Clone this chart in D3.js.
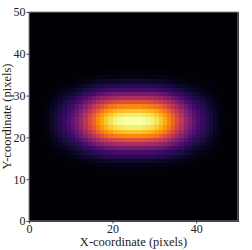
<!DOCTYPE html>
<html>
<head>
<meta charset="utf-8">
<script src="https://cdn.jsdelivr.net/npm/d3@7"></script>
<style>
  body { margin: 0; background: white; }
  text { font-family: "Liberation Serif", "DejaVu Serif", serif; fill: #222; }
</style>
</head>
<body>
<div id="chart"></div>
<script>
// intensity along the brightest row (x = 0..49)
const rowProfile = [
  0, 0.005, 0.01, 0.02, 0.04, 0.07, 0.1, 0.14, 0.18, 0.23,
  0.28, 0.34, 0.41, 0.5, 0.58, 0.66, 0.74, 0.81, 0.87, 0.92,
  0.96, 0.98, 0.99, 1, 1, 1, 1, 0.99, 0.98, 0.96,
  0.92, 0.87, 0.81, 0.74, 0.66, 0.58, 0.5, 0.41, 0.34, 0.28,
  0.23, 0.18, 0.14, 0.1, 0.07, 0.04, 0.02, 0.01, 0.005, 0
];
// intensity along the brightest column (y = 0..49)
const colProfile = [
  0, 0, 0, 0, 0, 0, 0, 0, 0, 0,
  0, 0.01, 0.02, 0.04, 0.08, 0.14, 0.22, 0.33, 0.46, 0.6,
  0.74, 0.86, 0.95, 1, 1, 0.95, 0.86, 0.74, 0.6, 0.46,
  0.33, 0.22, 0.14, 0.08, 0.04, 0.02, 0.01, 0, 0, 0,
  0, 0, 0, 0, 0, 0, 0, 0, 0, 0
];
const xTicks = [0, 20, 40];
const yTicks = [0, 10, 20, 30, 40, 50];

const width = 252, height = 250;
const margin = {left: 29, top: 12, right: 14, bottom: 29};

const svg = d3.select("#chart")
  .append("svg")
    .attr("width", width)
    .attr("height", height)
    .style("display", "block")

const x = d3.scaleLinear().domain([0, 50]).range([margin.left, width - margin.right]);
const y = d3.scaleLinear().domain([0, 50]).range([height - margin.bottom, margin.top]);
const color = d3.scaleSequential(d3.interpolateInferno).domain([0, 1]);

const cells = [];
colProfile.forEach((cy, j) => {
  rowProfile.forEach((cx, i) => {
    cells.push({i, j, v: cx * cy});
  });
});

svg.append("g")
  .attr("shape-rendering", "crispEdges")
  .selectAll("rect")
  .data(cells)
  .join("rect")
    .attr("x", d => x(d.i))
    .attr("y", d => y(d.j + 1))
    .attr("width", d => x(d.i + 1) - x(d.i) + 0.5)
    .attr("height", d => y(d.j) - y(d.j + 1) + 0.5)
    .attr("fill", d => color(d.v))

// frame
svg.append("rect")
  .attr("x", x(0))
  .attr("y", y(50))
  .attr("width", x(50) - x(0))
  .attr("height", y(0) - y(50))
  .attr("fill", "none")
  .attr("stroke", "#888")
  .attr("stroke-width", 1)

const xAxis = svg.append("g")
  .attr("transform", `translate(0,${y(0)})`)
  .call(d3.axisBottom(x).tickValues(xTicks).tickSize(2.5).tickPadding(0.5))
xAxis.select(".domain").remove()
xAxis.selectAll("line").attr("stroke", "#444")
xAxis.selectAll("text").style("font-size", "12px").attr("fill", "#222")

const yAxis = svg.append("g")
  .attr("transform", `translate(${x(0)},0)`)
  .call(d3.axisLeft(y).tickValues(yTicks).tickSize(2.5).tickPadding(1))
yAxis.select(".domain").remove()
yAxis.selectAll("line").attr("stroke", "#444")
yAxis.selectAll("text").style("font-size", "12px").attr("fill", "#222")

svg.append("text")
  .attr("x", (x(0) + x(50)) / 2)
  .attr("y", 246)
  .attr("text-anchor", "middle")
  .style("font-size", "12.5px")
  .text("X-coordinate (pixels)")

svg.append("text")
  .attr("transform", `translate(11,${(y(0) + y(50)) / 2}) rotate(-90)`)
  .attr("text-anchor", "middle")
  .style("font-size", "12.5px")
  .text("Y-coordinate (pixels)")
</script>
</body>
</html>
